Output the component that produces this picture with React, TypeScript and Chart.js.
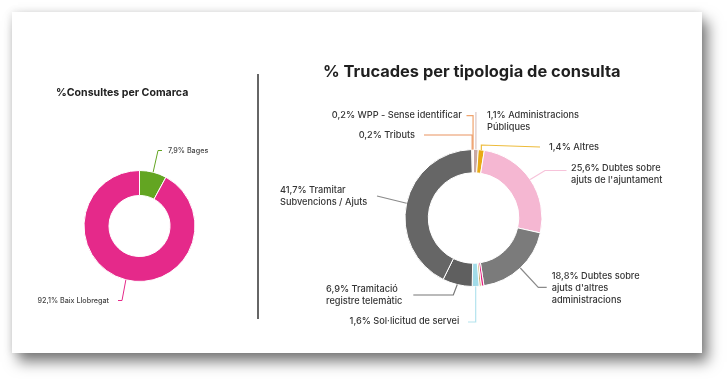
import React, { useEffect, useRef } from "react";
import { Chart, registerables } from "chart.js";

Chart.register(...registerables);

// ---------- DATA ----------
const comarcaNames = ["Bages", "Baix Llobregat"];
const comarcaValues = [7.9, 92.1];
const comarcaColors = ["#63a522", "#e5298a"];

const tipologiaNames = [
  "Administracions\nPúbliques",
  "Altres",
  "Dubtes sobre\najuts de l'ajuntament",
  "Dubtes sobre\najuts d'altres\nadministracions",
  "",
  "",
  "Sol·licitud de servei",
  "Tramitació\nregistre telemàtic",
  "Tramitar\nSubvencions / Ajuts",
  "Tributs",
  "WPP - Sense identificar",
];
const tipologiaValues = [1.1, 1.4, 25.6, 18.8, 0.6, 0.5, 1.6, 6.9, 41.7, 0.2, 0.2];
const tipologiaColors = [
  "#c9a9a4",
  "#e8aa14",
  "#f5b7d2",
  "#7b7b7b",
  "#e61f80",
  "#c9a865",
  "#a2dce9",
  "#5f5f5f",
  "#666666",
  "#e8894d",
  "#f0a46e",
];
const tipologiaLineColors = [
  "#dcc6c4",
  "#edbb3a",
  "#f7c3da",
  "#8a8a8a",
  "#e61f80",
  "#c9a865",
  "#b3e3ee",
  "#777777",
  "#8a8a8a",
  "#ea9460",
  "#f0a46e",
];

const leftTitle = "%Consultes per Comarca";
const rightTitle = "% Trucades per tipologia de consulta";

// ---------- helpers ----------
const fmt = (v: number) => v.toFixed(1).replace(".", ",") + "%";

type Pt = { x?: number; y?: number };
type LeaderSpec = { path: Pt[]; text: [number, number]; align: CanvasTextAlign } | null;

function makeLeaderPlugin(
  specs: LeaderSpec[],
  names: string[],
  values: number[],
  lineColors: string[],
  font: string,
  lineHeight: number,
  textColor: string,
  lineWidth: number
) {
  return {
    id: "leaders",
    afterDatasetsDraw(chart: any) {
      const ctx = chart.ctx as CanvasRenderingContext2D;
      const meta = chart.getDatasetMeta(0);
      ctx.save();
      meta.data.forEach((arc: any, i: number) => {
        const spec = specs[i];
        if (!spec) return;
        const { x, y, startAngle, endAngle, outerRadius } = arc.getProps(
          ["x", "y", "startAngle", "endAngle", "outerRadius"],
          true
        );
        const a = (startAngle + endAngle) / 2;
        let px = x + Math.cos(a) * outerRadius;
        let py = y + Math.sin(a) * outerRadius;
        ctx.beginPath();
        ctx.moveTo(px, py);
        for (const p of spec.path) {
          if (p.x !== undefined) px = x + p.x;
          if (p.y !== undefined) py = y + p.y;
          ctx.lineTo(px, py);
        }
        ctx.strokeStyle = lineColors[i];
        ctx.lineWidth = lineWidth;
        ctx.stroke();

        const lines = (fmt(values[i]) + " " + names[i]).split("\n");
        ctx.font = font;
        ctx.fillStyle = textColor;
        ctx.textAlign = spec.align;
        ctx.textBaseline = "middle";
        lines.forEach((ln, k) => {
          ctx.fillText(ln, x + spec.text[0], y + spec.text[1] + k * lineHeight);
        });
      });
      ctx.restore();
    },
  };
}

const leftSpecs: LeaderSpec[] = [
  { path: [{ x: 18.5, y: -75.5 }, { x: 22.5 }], text: [28.5, -74.8], align: "left" },
  { path: [{ x: -17.5, y: 74.5 }, { x: -21.5 }], text: [-30.5, 74.5], align: "right" },
];

const rightSpecs: LeaderSpec[] = [
  { path: [{ y: -106 }], text: [13.5, -102.3], align: "left" },
  { path: [{ y: -73 }, { x: 66.5, y: -71 }], text: [75.5, -71], align: "left" },
  { path: [{ x: 71.5, y: -47.5 }, { x: 93 }], text: [97.5, -50], align: "left" },
  { path: [{ x: 64.8, y: 69.3 }, { x: 73.2 }], text: [78.2, 58], align: "left" },
  null,
  null,
  { path: [{ y: 104 }, { x: -5.5 }], text: [-14.2, 103.7], align: "right" },
  { path: [{ x: -20.2, y: 77 }, { x: -60.2 }], text: [-147.5, 71], align: "left" },
  { path: [{ x: -96.5, y: -22 }], text: [-193.5, -27.3], align: "left" },
  { path: [{ y: -83 }, { x: -49.5 }], text: [-58.5, -83], align: "right" },
  { path: [{ y: -102.3 }, { x: -7 }], text: [-11.8, -102.3], align: "right" },
];

export default function App() {
  const leftRef = useRef<HTMLCanvasElement>(null);
  const rightRef = useRef<HTMLCanvasElement>(null);

  useEffect(() => {
    document.body.style.margin = "0";
    const left = new Chart(leftRef.current!, {
      type: "doughnut",
      data: {
        labels: comarcaNames,
        datasets: [
          {
            data: comarcaValues,
            backgroundColor: comarcaColors,
            borderColor: "#ffffff",
            borderWidth: 1,
          },
        ],
      },
      options: {
        responsive: false,
        animation: false,
        cutout: "55%",
        layout: { padding: { top: 74.64, left: 44, right: 34, bottom: 71 } },
        plugins: {
          legend: { display: false },
          tooltip: { enabled: false },
          title: {
            display: true,
            text: leftTitle,
            align: "start",
            color: "#222222",
            font: { family: "Inter", size: 10.6, weight: "bold", lineHeight: 1.2 },
            padding: { top: 0, bottom: 70.64 },
          },
        },
      },
      plugins: [
        makeLeaderPlugin(
          leftSpecs,
          comarcaNames,
          comarcaValues,
          comarcaColors,
          "500 7.2px Inter",
          9,
          "#444444",
          1
        ),
      ],
    });

    const right = new Chart(rightRef.current!, {
      type: "doughnut",
      data: {
        labels: tipologiaNames,
        datasets: [
          {
            data: tipologiaValues,
            backgroundColor: tipologiaColors,
            borderColor: "#ffffff",
            borderWidth: 1,
          },
        ],
      },
      options: {
        responsive: false,
        animation: false,
        cutout: "66%",
        layout: { padding: { top: 49.86, left: 64, right: 78, bottom: 66 } },
        plugins: {
          legend: { display: false },
          tooltip: { enabled: false },
          title: {
            display: true,
            text: rightTitle,
            align: "start",
            color: "#1f1f1f",
            font: { family: "Inter", size: 16.4, weight: "bold", lineHeight: 1.2 },
            padding: { top: 0, bottom: 67.46 },
          },
        },
      },
      plugins: [
        makeLeaderPlugin(
          rightSpecs,
          tipologiaNames,
          tipologiaValues,
          tipologiaLineColors,
          "500 9.2px Inter",
          12,
          "#363636",
          1.2
        ),
      ],
    });

    return () => {
      left.destroy();
      right.destroy();
    };
  }, []);

  return (
    <div
      style={{
        position: "fixed",
        left: 0,
        top: 0,
        width: 727,
        height: 379,
        background: "#ffffff",
        overflow: "hidden",
      }}
    >
      <div
        style={{
          position: "absolute",
          left: 12,
          top: 12,
          width: 690,
          height: 341,
          background: "#ffffff",
          boxShadow: "6px 9px 13px rgba(0,0,0,0.5), 0 0 8px rgba(0,0,0,0.12)",
        }}
      />
      <canvas
        ref={leftRef}
        width={245}
        height={341}
        style={{ position: "absolute", left: 12, top: 12, width: 245, height: 341 }}
      />
      <div
        style={{
          position: "absolute",
          left: 257,
          top: 74,
          width: 2,
          height: 245,
          background: "#666666",
        }}
      />
      <canvas
        ref={rightRef}
        width={443}
        height={341}
        style={{ position: "absolute", left: 259, top: 12, width: 443, height: 341 }}
      />
    </div>
  );
}
